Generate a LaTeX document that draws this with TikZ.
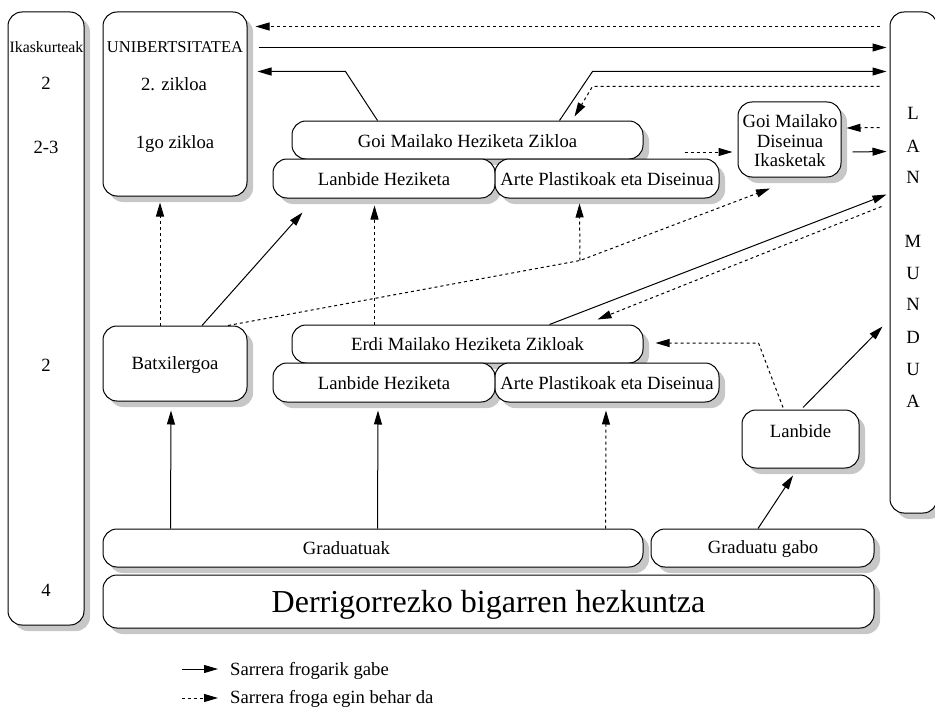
\documentclass[tikz,border=0pt]{standalone}
\usepackage{fontspec}
\setmainfont{Liberation Serif}
\usetikzlibrary{arrows.meta,calc,shadows}
\newcommand\fa{\fontsize{18.67}{21}\selectfont}
\newcommand\fb{\fontsize{15.8}{19}\selectfont}
\newcommand\fd{\fontsize{16.5}{19}\selectfont}
\newcommand\fc{\fontsize{32}{36}\selectfont}
\newcommand\mkbox[5]{%
  \pgfmathsetmacro\bw{#4-#2}\pgfmathsetmacro\bh{#5-#3}%
  \pgfmathsetmacro\bcx{(#2+#4)/2}\pgfmathsetmacro\bcy{(#3+#5)/2}%
  \node[box, minimum width=\bw pt, minimum height=\bh pt] (#1) at (\bcx,\bcy) {};}
\begin{document}
\begin{tikzpicture}[x=1pt,y=-1pt,
  box/.style={draw=black, line width=1pt, rounded corners=14pt, fill=white, inner sep=0pt,
    drop shadow={shadow xshift=6pt, shadow yshift=-6pt, fill=black!22, opacity=1}},
  txt/.style={anchor=base, inner sep=0pt, font=\fa},
  con/.style={line width=1pt, -{Triangle[length=14pt,width=8pt]}},
  dsh/.style={con, dash pattern=on 3pt off 3pt}]
\useasboundingbox (0,0) rectangle (935,709);

% boxes
\mkbox{ik}{8}{12}{84}{625}
\mkbox{uni}{103}{12}{247}{196}
\mkbox{lan}{890}{12}{937}{513}
\mkbox{gmhz}{292}{121}{643}{159}
\mkbox{lhA}{273}{159}{495}{198}
\mkbox{apA}{495}{159}{719}{198}
\mkbox{gmd}{738}{102}{841}{177}
\mkbox{batx}{103}{326}{247}{401}
\mkbox{erdi}{292}{325}{643}{363}
\mkbox{lhB}{273}{363}{495}{402}
\mkbox{apB}{495}{363}{719}{402}
\mkbox{lanb}{742}{410}{859}{468}
\mkbox{grad}{103}{529}{643}{567}
\mkbox{gradg}{651}{529}{874}{567}
\mkbox{der}{103}{575}{874}{628}

% texts
\node[txt, font=\fb] (t-ik) at (46.5,53) {Ikaskurteak};
\node[txt] (t-n1) at (46,89) {2};
\node[txt] (t-n2) at (46,153) {2-3};
\node[txt] (t-n3) at (46,371) {2};
\node[txt] (t-n4) at (46,596) {4};
\node[txt, font=\fd] (t-uni) at (175,53) {UNIBERTSITATEA};
\node[txt] (t-z2) at (174,91) {2. zikloa};
\node[txt] (t-z1) at (175,148) {1go zikloa};
\node[txt] (t-gmhz) at (467.5,147) {Goi Mailako Heziketa Zikloa};
\node[txt] (t-lhA) at (384,185) {Lanbide Heziketa};
\node[txt] (t-apA) at (607,185) {Arte Plastikoak eta Diseinua};
\node[txt] (t-gmd1) at (790,128) {Goi Mailako};
\node[txt] (t-gmd2) at (790,147) {Diseinua};
\node[txt] (t-gmd3) at (790,166) {Ikasketak};
\node[txt] (t-batx) at (175,369) {Batxilergoa};
\node[txt] (t-erdi) at (467.5,350) {Erdi Mailako Heziketa Zikloak};
\node[txt] (t-lhB) at (384,389) {Lanbide Heziketa};
\node[txt] (t-apB) at (607,389) {Arte Plastikoak eta Diseinua};
\node[txt] (t-lanb) at (800.5,437) {Lanbide};
\node[txt] (t-grad) at (346.5,554) {Graduatuak};
\node[txt] (t-gradg) at (763,553) {Graduatu gabo};
\node[txt, font=\fc] (t-der) at (488.5,612) {Derrigorrezko bigarren hezkuntza};
\foreach \l/\yy [count=\i] in {L/120,A/152,N/183,M/247,U/279,N/310,D/343,U/375,A/407}
  \node[txt] (t-lan\i) at (913,\yy) {\l};

% connectors
\draw[dsh] ($(lan.north west)+(-10,15)$) -- ($(uni.north east)+(8,15)$);
\draw[con] ($(uni.north east)+(11,36)$) -- ($(lan.north west)+(-3,36)$);
\draw[con] ($(gmhz.north west)+(86,0)$) -- ($(uni.north east)+(98,60)$) -- ($(uni.north east)+(10,60)$);
\draw[con] ($(gmhz.north west)+(268,0)$) -- ($(lan.north west)+(-297,60)$) -- ($(lan.north west)+(-3,60)$);
\draw[dsh] ($(lan.north west)+(-10,75)$) -- ($(lan.north west)+(-297,75)$) -- ($(gmhz.north west)+(283,-4)$);
\draw[dsh] ($(gmd.west)+(-53,12.5)$) -- ($(gmd.west)+(-5,12.5)$);
\draw[dsh] ($(lan.north west)+(-10,116)$) -- ($(gmd.east)+(5,-11.5)$);
\draw[con] ($(gmd.east)+(11,12.5)$) -- ($(lan.north west)+(-3,140)$);
\draw[dsh] ($(batx.north)+(-15,0)$) -- ($(uni.south)+(-15,6)$);
\draw[con] ($(batx.north)+(27,0)$) -- ($(lhA.south west)+(30,14)$);
\draw[dsh] ($(erdi.north west)+(83,0)$) -- ($(lhA.south west)+(102,7)$);
\draw[dsh] ($(batx.north)+(53,0)$) -- ($(apA.south)+(-27,62)$) coordinate (mid) -- ($(gmd.south)+(-19.5,11)$);
\draw[dsh] (mid) -- ($(apA.south west)+(85,5)$);
\draw[con] ($(erdi.north west)+(258,0)$) -- ($(lan.north west)+(-3,183)$);
\draw[dsh] ($(lan.north west)+(-8,195)$) -- ($(erdi.north east)+(-46,-5)$);
\draw[dsh] ($(lanb.north)+(-17.5,-2)$) -- ($(erdi.east)+(115,-1)$) -- ($(erdi.east)+(12,-1)$);
\draw[con] ($(lanb.north)+(2.5,-2)$) -- ($(lan.north west)+(-7,315)$);
\draw[con] ($(gradg.north)+(-4.5,0)$) -- ($(lanb.south)+(-7.5,7)$);
\draw[con] ($(grad.north west)+(68,0)$) -- ($(batx.south)+(-4,9)$);
\draw[con] ($(grad.north west)+(275,0)$) -- ($(lhB.south)+(-6,8)$);
\draw[dsh] ($(grad.north west)+(503,0)$) -- ($(apB.south)+(-1,8)$);

% legend
\coordinate (la1) at (182,669);
\coordinate (la2) at (218,669);
\coordinate (lb1) at (182,698);
\coordinate (lb2) at (218,698);
\draw[con] (la1) -- (la2);
\draw[dsh] (lb1) -- (lb2);
\node[txt, anchor=base west] (t-leg1) at (230,675) {Sarrera frogarik gabe};
\node[txt, anchor=base west] (t-leg2) at (230,703.5) {Sarrera froga egin behar da};
\end{tikzpicture}
\end{document}
